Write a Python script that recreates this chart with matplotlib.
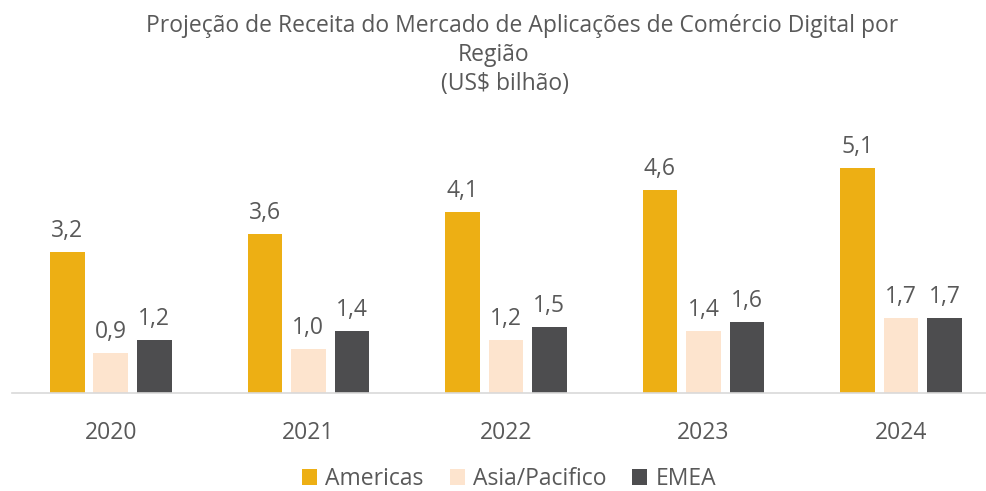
import numpy as np
import matplotlib.pyplot as plt
from matplotlib.patches import Patch

plt.rcParams['font.family'] = ['Open Sans', 'DejaVu Sans']

years = ['2020', '2021', '2022', '2023', '2024']
americas = [3.2, 3.6, 4.1, 4.6, 5.1]
asia_pacific = [0.9, 1.0, 1.2, 1.4, 1.7]
emea = [1.2, 1.4, 1.5, 1.6, 1.7]

series = [('Americas', americas, '#EDAF14'),
          ('Asia/Pacifico', asia_pacific, '#FDE4CE'),
          ('EMEA', emea, '#4D4D4F')]
title_lines = ['Projeção de Receita do Mercado de Aplicações de Comércio Digital por',
               'Região', '(US$ bilhão)']

txt = '#595959'
W, H = 987, 491
fig = plt.figure(figsize=(W / 100, H / 100), dpi=100)
# axes placed in pixel terms: left 12, right 987, baseline 393, top ~128
ax = fig.add_axes([12 / W, (H - 393) / H, (987 - 12) / W, (393 - 128) / H])

x = np.arange(len(years))
width = 0.175
step = 0.22
for i, (name, vals, col) in enumerate(series):
    pos = x + (i - 1) * step
    bars = ax.bar(pos, vals, width, color=col, label=name)
    for b, v in zip(bars, vals):
        ax.text(b.get_x() + b.get_width() / 2, v + 0.2, f'{v:.1f}'.replace('.', ','),
                ha='center', va='bottom', fontsize=16.5, color=txt)

ax.set_xlim(-0.5, (987 - 111) / 197.5)
ax.set_ylim(0, 6)
ax.set_yticks([])
ax.set_xticks(x)
ax.set_xticklabels(years, fontsize=16.5, color=txt)
ax.tick_params(axis='x', length=0, pad=20)
for s in ['top', 'right', 'left']:
    ax.spines[s].set_visible(False)
ax.spines['bottom'].set_color('#D9D9D9')
ax.spines['bottom'].set_linewidth(1.2)

# title lines, each with its own centre as in the original
for line, cx, base in zip(title_lines, [522, 494, 505], [32, 61, 90]):
    fig.text(cx / W, 1 - base / H, line, ha='center', va='baseline',
             fontsize=16.5, color=txt)

handles = [Patch(facecolor=c, label=n) for n, _, c in series]
fig.legend(handles=handles, loc='center', bbox_to_anchor=(509 / W, 1 - 479 / H), ncol=3,
           frameon=False, fontsize=16.5, labelcolor=txt, handlelength=0.65, handleheight=0.65,
           handletextpad=0.35, columnspacing=1.15)

fig.savefig('out.png', dpi=100)
